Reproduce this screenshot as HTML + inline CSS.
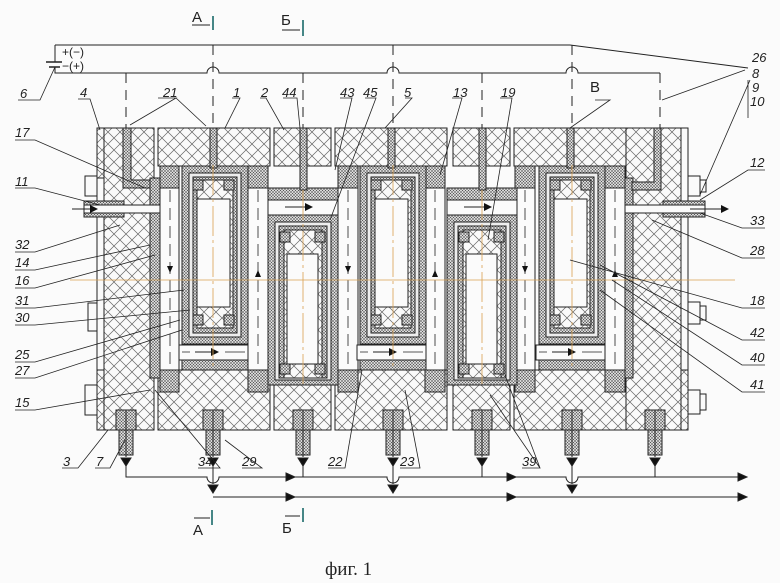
<!DOCTYPE html>
<html><head><meta charset="utf-8"><style>
html,body{margin:0;padding:0;background:#fbfbfb;}
svg{display:block;}
text{font-family:"Liberation Sans","DejaVu Sans",sans-serif;font-style:italic;font-size:13px;fill:#222;}
</style></head><body>
<svg width="780" height="583" viewBox="0 0 780 583" xmlns="http://www.w3.org/2000/svg">
<defs>
<pattern id="h" width="12" height="12" patternUnits="userSpaceOnUse">
<rect width="12" height="12" fill="#fafafa"/>
<path d="M0 0L12 12M12 0L0 12" stroke="#666" stroke-width="0.7"/>
</pattern>
<pattern id="d" width="3" height="3" patternUnits="userSpaceOnUse">
<rect width="3" height="3" fill="#d8d8d8"/>
<path d="M0 0L3 3M3 0L0 3" stroke="#555" stroke-width="0.5"/>
</pattern>
<marker id="ar" markerWidth="8" markerHeight="8" refX="7" refY="4" orient="auto" markerUnits="userSpaceOnUse"><path d="M0 0L8 4L0 8Z" fill="#111"/></marker>
</defs>
<g stroke="#222" stroke-width="1">
<path d="M55 45H570L748 68M55 45V62M55 67V73H207a6 6 0 0 1 12 0H387a6 6 0 0 1 12 0H566a6 6 0 0 1 12 0H660" fill="none"/>
<path d="M46 62H62M49 67H60" stroke-width="1.4"/>
<g stroke-dasharray="10,7" fill="none">
<path d="M126 73V128M213 45V128M303 73V128M393 45V128M482 73V128M572 45V128M660 73V128"/>
</g>
<rect x="97" y="128" width="7" height="302" fill="#fafafa"/>
<rect x="97" y="128" width="7" height="50" fill="url(#h)"/>
<rect x="97" y="370" width="7" height="60" fill="url(#h)"/>
<rect x="681" y="128" width="7" height="302" fill="#fafafa"/>
<rect x="681" y="370" width="7" height="60" fill="url(#h)"/>
<g fill="#fafafa">
<rect x="85" y="176" width="12" height="20"/><rect x="88" y="303" width="9" height="28"/><rect x="85" y="385" width="12" height="30"/>
<rect x="688" y="176" width="12" height="20"/><rect x="700" y="180" width="6" height="12"/>
<rect x="688" y="302" width="12" height="22"/><rect x="700" y="306" width="6" height="14"/>
<rect x="688" y="390" width="12" height="24"/><rect x="700" y="394" width="6" height="16"/>
</g>
<rect x="104" y="128" width="50" height="302" fill="url(#h)"/>
<rect x="626" y="128" width="55" height="302" fill="url(#h)"/>
<rect x="158" y="128" width="112" height="38" fill="url(#h)"/>
<rect x="274" y="128" width="57" height="38" fill="url(#h)"/>
<rect x="335" y="128" width="112" height="38" fill="url(#h)"/>
<rect x="453" y="128" width="57" height="38" fill="url(#h)"/>
<rect x="514" y="128" width="112" height="38" fill="url(#h)"/>
<rect x="158" y="370" width="112" height="60" fill="url(#h)"/>
<rect x="274" y="385" width="57" height="45" fill="url(#h)"/>
<rect x="335" y="370" width="112" height="60" fill="url(#h)"/>
<rect x="453" y="385" width="57" height="45" fill="url(#h)"/>
<rect x="514" y="370" width="112" height="60" fill="url(#h)"/>
<g fill="#fbfbfb">
<rect x="160" y="178" width="19" height="192"/><rect x="248" y="178" width="20" height="192"/>
<rect x="338" y="178" width="20" height="192"/><rect x="425" y="178" width="20" height="192"/>
<rect x="515" y="178" width="20" height="192"/><rect x="605" y="178" width="20" height="192"/>
</g>
<g fill="url(#d)">
<rect x="160" y="166" width="19" height="22"/><rect x="248" y="166" width="20" height="22"/><rect x="338" y="166" width="20" height="22"/><rect x="425" y="166" width="20" height="22"/><rect x="515" y="166" width="20" height="22"/><rect x="605" y="166" width="20" height="22"/>
<rect x="160" y="370" width="19" height="22"/><rect x="248" y="370" width="20" height="22"/><rect x="338" y="370" width="20" height="22"/><rect x="425" y="370" width="20" height="22"/><rect x="515" y="370" width="20" height="22"/><rect x="605" y="370" width="20" height="22"/>
<rect x="150" y="178" width="10" height="200"/><rect x="625" y="178" width="8" height="200"/>
</g>
<g stroke-dasharray="12,6" fill="none" stroke-width="0.8">
<path d="M170 190V368M258 190V368M348 190V368M435 190V368M525 190V368M615 190V368"/>
</g>
<g stroke="none" fill="#111">
<path d="M167 266h6l-3 7z M345 266h6l-3 7z M522 266h6l-3 7z M255 277h6l-3-7z M432 277h6l-3-7z M612 277h6l-3-7z"/>
</g>
<g id="A">
<rect x="182" y="166" width="66" height="178" fill="url(#d)"/>
<rect x="189" y="173" width="52" height="164" fill="#eee"/>
<rect x="193" y="177" width="44" height="156" fill="url(#d)"/>
<rect x="197" y="180" width="36" height="148" fill="url(#h)"/>
<rect x="197" y="199" width="33" height="108" fill="#fbfbfb"/>
<rect x="193" y="180" width="10" height="10" fill="url(#d)"/><rect x="224" y="180" width="10" height="10" fill="url(#d)"/>
<rect x="193" y="315" width="10" height="10" fill="url(#d)"/><rect x="224" y="315" width="10" height="10" fill="url(#d)"/>
<rect x="179" y="345" width="69" height="15" fill="#fbfbfb"/>
<path d="M182 352H190M225 352H245" stroke-width="0.7" fill="none"/>
<rect x="182" y="360" width="66" height="10" fill="url(#d)"/>
<path d="M195 352H218" marker-end="url(#ar)" fill="none"/>
<rect x="210" y="128" width="7" height="40" fill="url(#d)"/>
</g>
<use href="#A" x="178"/>
<use href="#A" x="357"/>
<g id="B">
<rect x="268" y="188" width="70" height="12" fill="url(#d)"/>
<rect x="268" y="200" width="70" height="15" fill="#fbfbfb"/>
<path d="M285 207H312" marker-end="url(#ar)" fill="none"/>
<rect x="268" y="215" width="70" height="170" fill="url(#d)"/>
<rect x="275" y="222" width="56" height="158" fill="#eee"/>
<rect x="279" y="226" width="48" height="152" fill="url(#d)"/>
<rect x="284" y="230" width="38" height="148" fill="url(#h)"/>
<rect x="287" y="254" width="31" height="110" fill="#fbfbfb"/>
<rect x="280" y="232" width="10" height="10" fill="url(#d)"/><rect x="315" y="232" width="10" height="10" fill="url(#d)"/>
<rect x="280" y="364" width="10" height="10" fill="url(#d)"/><rect x="315" y="364" width="10" height="10" fill="url(#d)"/>
<rect x="300" y="128" width="7" height="62" fill="url(#d)"/>
</g>
<use href="#B" x="179"/>
<path d="M123 128V188H150V180H131V128Z" fill="url(#d)"/>
<path d="M654 128V182H632V190H661V128Z" fill="url(#d)"/>
<rect x="84" y="201" width="40" height="16" fill="url(#d)"/>
<rect x="84" y="205" width="76" height="8" fill="#fbfbfb"/>
<path d="M72 209H97" marker-end="url(#ar)"/>
<rect x="663" y="201" width="42" height="16" fill="url(#d)"/>
<rect x="625" y="205" width="80" height="8" fill="#fbfbfb"/>
<path d="M690 209H728" marker-end="url(#ar)"/>
<g stroke="#d9a050" stroke-width="0.8" fill="none">
<path d="M70 280H735"/>
<path d="M213 165V370M303 190V385M393 165V370M482 190V385M572 165V370" stroke-dasharray="30,4,3,4"/>
</g>
<g id="F">
<rect x="116" y="410" width="20" height="20" fill="url(#d)"/>
<rect x="119" y="430" width="14" height="25" fill="url(#d)"/>
<path d="M126 410V457" fill="none"/>
<path d="M121 458h10l-5 8z" fill="#111"/>
</g>
<use href="#F" x="87"/><use href="#F" x="177"/><use href="#F" x="267"/><use href="#F" x="356"/><use href="#F" x="446"/><use href="#F" x="529"/>
<path d="M126 466V477H207a6 6 0 0 0 12 0H387a6 6 0 0 0 12 0H566a6 6 0 0 0 12 0H745" fill="none"/>
<path d="M303 466V477M482 466V477M655 466V477" fill="none"/>
<path d="M213 466V484M393 466V484M572 466V484" fill="none"/>
<path d="M208 485h10l-5 8zM388 485h10l-5 8zM567 485h10l-5 8z" fill="#111"/>
<path d="M213 497H745" fill="none"/>
<path d="M286 473l9 4l-9 4zM507 473l9 4l-9 4zM738 473l9 4l-9 4zM286 493l9 4l-9 4zM507 493l9 4l-9 4zM738 493l9 4l-9 4z" fill="#111"/>
<g stroke="#1a6a6a" stroke-width="1.6"><path d="M213 16V30M303 20V36M212 510V525M303 508V522"/></g>
<path d="M192 25H210M282 30H300M194 518H210M285 516H300" fill="none"/>
<g fill="none" stroke-width="0.8">
<path d="M18 100H40L55 67M78 99H90L100 130M158 98H176L130 125M176 98L206 126M232 98H240L225 128M260 98H266L284 130M283 98H297L300 128M340 98H352L335 170M365 98H376L330 220M405 98H412L385 128M452 98H462L440 175M500 98H512L488 240M595 100H610L570 128"/>
<path d="M745 70L662 100M750 80L700 195M748 90V80M748 118V80"/>
<path d="M15 140H35L145 188M15 188H35L100 205M15 252H35L120 225M15 270H35L150 245M15 288H35L155 255M15 308H35L184 290M15 325H35L190 310M15 362H35L180 320M15 378H35L182 330M15 410H35L150 390"/>
<path d="M62 468H78L108 430M95 468H110L125 440M198 468H220L155 390M242 468H262L225 440M328 468H345L362 370M400 468H420L405 390M522 468H540L490 395M540 468L505 375"/>
<path d="M765 170H748L700 200M765 228H742L700 213M765 258H742L652 220M765 308H742L570 260M765 340H742L600 265M765 365H742L612 280M765 392H742L600 290"/>
</g>
</g>
<g>
<text x="62" y="56" style="font-style:normal;font-size:12px">+(−)</text>
<text x="62" y="70" style="font-style:normal;font-size:12px">−(+)</text>
<text x="20" y="98">6</text><text x="80" y="97">4</text><text x="163" y="97">21</text><text x="233" y="97">1</text>
<text x="261" y="97">2</text><text x="282" y="97">44</text><text x="340" y="97">43</text><text x="363" y="97">45</text>
<text x="404" y="97">5</text><text x="453" y="97">13</text><text x="501" y="97">19</text>
<text x="590" y="92" style="font-style:normal;font-size:15px">В</text>
<text x="752" y="62">26</text><text x="752" y="78">8</text><text x="752" y="92">9</text><text x="750" y="106">10</text>
<text x="15" y="137">17</text><text x="15" y="186">11</text><text x="15" y="249">32</text><text x="15" y="267">14</text>
<text x="15" y="285">16</text><text x="15" y="305">31</text><text x="15" y="322">30</text><text x="15" y="359">25</text>
<text x="15" y="375">27</text><text x="15" y="407">15</text>
<text x="63" y="466">3</text><text x="96" y="466">7</text><text x="198" y="466">34</text><text x="242" y="466">29</text>
<text x="328" y="466">22</text><text x="400" y="466">23</text><text x="522" y="466">39</text>
<text x="750" y="167">12</text><text x="750" y="225">33</text><text x="750" y="255">28</text><text x="750" y="305">18</text>
<text x="750" y="337">42</text><text x="750" y="362">40</text><text x="750" y="389">41</text>
<text x="192" y="22" style="font-style:normal;font-size:15px">А</text>
<text x="281" y="25" style="font-style:normal;font-size:15px">Б</text>
<text x="193" y="535" style="font-style:normal;font-size:15px">А</text>
<text x="282" y="533" style="font-style:normal;font-size:15px">Б</text>
<text x="325" y="575" style="font-family:'Liberation Serif',serif;font-style:normal;font-size:19px">фиг. 1</text>
</g>
</svg>
</body></html>
